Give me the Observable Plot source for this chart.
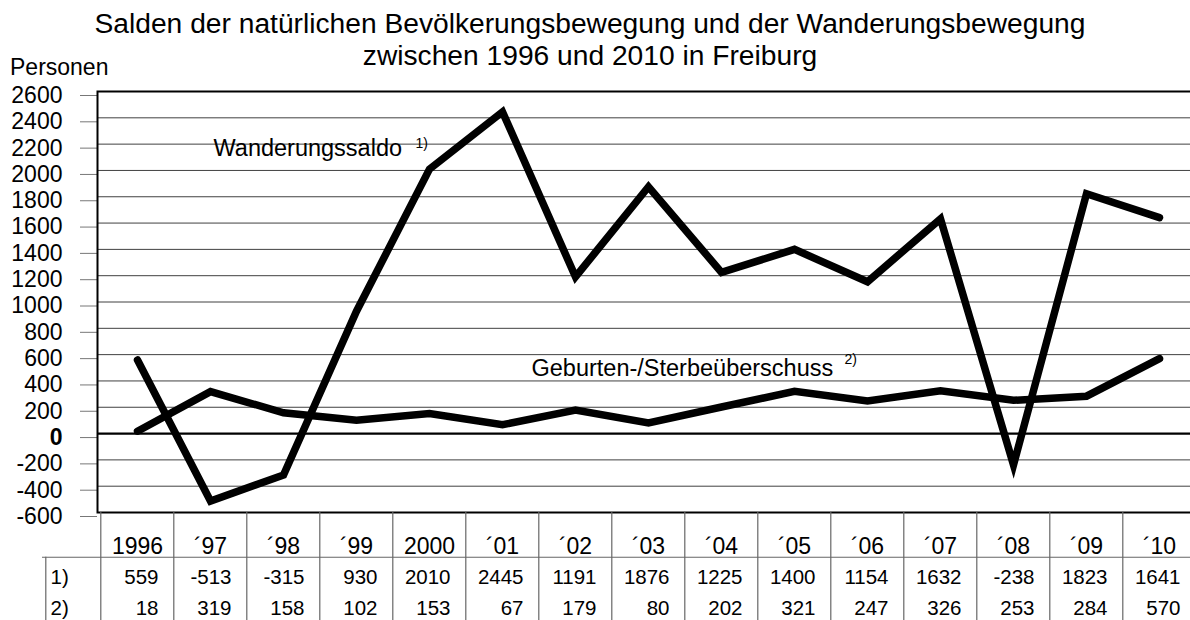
<!DOCTYPE html>
<html><head><meta charset="utf-8">
<script src="https://cdn.jsdelivr.net/npm/d3@7"></script>
<script src="https://cdn.jsdelivr.net/npm/@observablehq/plot@0.6"></script>
<style>
html,body{margin:0;padding:0;background:#fff;}
#wrap{position:relative;width:1190px;height:620px;overflow:hidden;font-family:"Liberation Sans",Arial,sans-serif;color:#000;background:#fff;}
#title{position:absolute;left:0;top:7px;width:1180px;text-align:center;font-size:28.2px;line-height:32px;}
#unit{position:absolute;left:10px;top:55.5px;font-size:23px;line-height:23px;}
</style></head><body>
<div id="wrap">
<div id="title">Salden der natürlichen Bevölkerungsbewegung und der Wanderungsbewegung<br>zwischen 1996 und 2010 in Freiburg</div>
<div id="unit">Personen</div>
</div>
<script>
const years = ["1996","´97","´98","´99","2000","´01","´02","´03","´04","´05","´06","´07","´08","´09","´10"];
const wanderung = [559,-513,-315,930,2010,2445,1191,1876,1225,1400,1154,1632,-238,1823,1641];
const geburten = [18,319,158,102,153,67,179,80,202,321,247,326,253,284,570];
const rowLabels = ["1)","2)"];
const yTicks = [-600,-400,-200,0,200,400,600,800,1000,1200,1400,1600,1800,2000,2200,2400,2600];
const lineLabels = ["Wanderungssaldo","Geburten-/Sterbeüberschuss"];
const lineNotes = ["1)","2)"];
const labelYears = ["´97","´02"];
const labelValues = [2200,600];

const W = 1200, L = 97, R = 2;
const step = (W - L - R) / years.length;
const font = "'Liberation Sans', Arial, sans-serif";

const series = [
  ...years.map((year, i) => ({year, value: wanderung[i], s: "w"})),
  ...years.map((year, i) => ({year, value: geburten[i], s: "g"}))
];
const labels = lineLabels.map((text, i) => ({text, note: lineNotes[i], year: labelYears[i], value: labelValues[i]}));

const baseStyle = {position: "absolute", left: "0px", maxWidth: "none", background: "none", fontFamily: font, fontSize: "23px", color: "#000", overflow: "visible"};

const chart = Plot.plot({
  width: W, height: 467, marginLeft: L, marginRight: R, marginTop: 31, marginBottom: 15,
  style: {...baseStyle, top: "60px"},
  x: {type: "point", domain: years, range: [L, W - R], padding: 0.5, axis: null},
  y: {domain: [-600, 2600]},
  marks: [
    Plot.ruleY(yTicks.filter(d => d !== 0 && d !== 2600 && d !== -600), {stroke: "#404040", strokeWidth: 1}),
    Plot.axisY(yTicks.filter(d => d !== 0), {tickSize: 17, tickPadding: 18, tickFormat: d => String(d), fontSize: 23, dy: 4, stroke: "#777", label: null}),
    Plot.axisY([0], {tickSize: 17, tickPadding: 18, tickFormat: d => String(d), fontSize: 23, fontWeight: "bold", dy: 4, stroke: "#777", label: null}),
    Plot.ruleY([0], {stroke: "#000", strokeWidth: 2.2}),
    Plot.frame({stroke: "#000", strokeWidth: 2}),
    Plot.line(series, {x: "year", y: "value", z: "s", stroke: "#000", strokeWidth: 7.5, strokeLinejoin: "miter", strokeMiterlimit: 4, strokeLinecap: "round"}),
    Plot.text([labels[0]], {x: "year", y: "value", text: "text", textAnchor: "start", dx: 3, dy: 3.9, fontSize: 23.5, ariaLabel: "lbl-0"}),
    Plot.text([labels[1]], {x: "year", y: "value", text: "text", textAnchor: "start", dx: -44, dy: 13.4, fontSize: 23.5, ariaLabel: "lbl-1"}),
    Plot.text([labels[0]], {x: "year", y: "value", text: "note", textAnchor: "start", dx: 205, dy: -1, fontSize: 14, ariaLabel: "note-0"}),
    Plot.text([labels[1]], {x: "year", y: "value", text: "note", textAnchor: "start", dx: 269, dy: 4.7, fontSize: 14, ariaLabel: "note-1"})
  ]
});

const cells1 = years.map((year, i) => ({year, row: "1)", text: String(wanderung[i])}));
const cells2 = years.map((year, i) => ({year, row: "2)", text: String(geburten[i])}));

const table = Plot.plot({
  width: W, height: 130, marginLeft: 42, marginRight: R, marginTop: 0, marginBottom: 0,
  style: {...baseStyle, top: "512px"},
  x: {type: "point", domain: years, range: [L, W - R], padding: 0.5, axis: null},
  y: {type: "point", domain: ["year", ...rowLabels], range: [34, 96.5], padding: 0, axis: null},
  marks: [
    Plot.ruleX(years, {x: d => d, dx: -step / 2, stroke: "#666", strokeWidth: 1.2}),
    Plot.ruleY(["1)"], {y: d => d, dy: -20.25, stroke: "#666", strokeWidth: 1.2}),
    Plot.ruleX([years[0]], {x: d => d, dx: -(step / 2 + 55), y1: () => "1)", y2: () => "2)", insetTop: -20.25, insetBottom: -40, stroke: "#666", strokeWidth: 1.2}),
    Plot.text(years, {x: d => d, y: () => "year", text: d => d, fontSize: 23}),
    Plot.text([...cells1, ...cells2], {x: "year", y: "row", text: "text", textAnchor: "end", dx: 21, fontSize: 20.5}),
    Plot.text(rowLabels, {y: d => d, text: d => d, frameAnchor: "left", textAnchor: "start", dx: 8, fontSize: 20.5})
  ]
});

const wrap = document.getElementById("wrap");
wrap.append(chart, table);

// white boxes behind the line labels (break the gridlines like the original)
const ns = "http://www.w3.org/2000/svg";
const sr = chart.getBoundingClientRect();
[0, 1].forEach(i => {
  const ga = chart.querySelector(`g[aria-label="lbl-${i}"]`);
  const gb = chart.querySelector(`g[aria-label="note-${i}"]`);
  if (!ga || !gb) return;
  const ra = ga.querySelector("text").getBoundingClientRect();
  const rb = gb.querySelector("text").getBoundingClientRect();
  const x0 = Math.min(ra.left, rb.left) - sr.left - 3;
  const x1 = Math.max(ra.right, rb.right) - sr.left + 1;
  const top = ra.top - sr.top;
  const rect = document.createElementNS(ns, "rect");
  rect.setAttribute("x", x0);
  rect.setAttribute("width", x1 - x0);
  rect.setAttribute("y", top - 3);
  rect.setAttribute("height", 0.905 * 23.5 + 4);
  rect.setAttribute("fill", "white");
  chart.insertBefore(rect, ga);
});
</script>
</body></html>
